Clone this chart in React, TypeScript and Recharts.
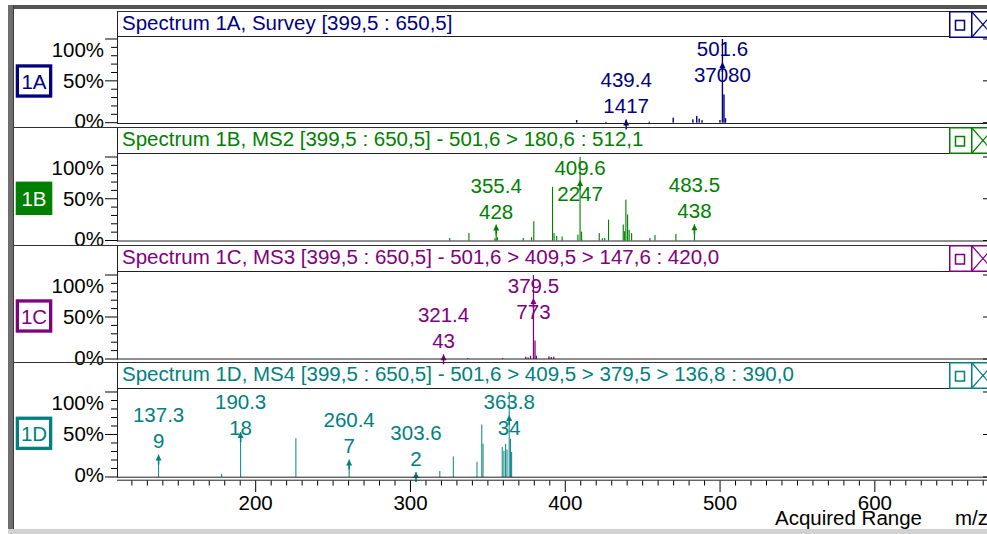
import React from "react";
import { BarChart, Bar, XAxis, YAxis } from "recharts";

type Peak = { mz: number; intensity: number; tagged?: boolean };

// ---- spectra (m/z, absolute intensity); tagged peaks carry an annotation ----
const SURVEY_1A: Peak[] = [
  { mz: 407.4, intensity: 1200 },
  { mz: 426.3, intensity: 400 },
  { mz: 439.4, intensity: 1417, tagged: true },
  { mz: 454.3, intensity: 450 },
  { mz: 469.8, intensity: 2200 },
  { mz: 482.5, intensity: 1500 },
  { mz: 485.0, intensity: 3000 },
  { mz: 486.6, intensity: 1800 },
  { mz: 488.4, intensity: 1100 },
  { mz: 500.0, intensity: 1200 },
  { mz: 501.6, intensity: 37080, tagged: true },
  { mz: 502.6, intensity: 12500 },
  { mz: 503.6, intensity: 2000 },
];

const MS2_1B: Peak[] = [
  { mz: 325.4, intensity: 70 },
  { mz: 337.8, intensity: 200 },
  { mz: 354.6, intensity: 60 },
  { mz: 355.4, intensity: 428, tagged: true },
  { mz: 356.2, intensity: 90 },
  { mz: 372.9, intensity: 70 },
  { mz: 378.3, intensity: 90 },
  { mz: 379.7, intensity: 520 },
  { mz: 391.8, intensity: 1440 },
  { mz: 392.8, intensity: 200 },
  { mz: 394.5, intensity: 120 },
  { mz: 398.0, intensity: 110 },
  { mz: 408.2, intensity: 160 },
  { mz: 409.6, intensity: 2247, tagged: true },
  { mz: 410.6, intensity: 240 },
  { mz: 422.0, intensity: 200 },
  { mz: 424.0, intensity: 60 },
  { mz: 425.5, intensity: 70 },
  { mz: 428.0, intensity: 560 },
  { mz: 437.5, intensity: 430 },
  { mz: 438.4, intensity: 250 },
  { mz: 439.2, intensity: 1100 },
  { mz: 440.3, intensity: 700 },
  { mz: 441.3, intensity: 290 },
  { mz: 442.9, intensity: 200 },
  { mz: 454.7, intensity: 70 },
  { mz: 458.0, intensity: 150 },
  { mz: 471.5, intensity: 180 },
  { mz: 483.5, intensity: 438, tagged: true },
];

const MS3_1C: Peak[] = [
  { mz: 321.4, intensity: 43, tagged: true },
  { mz: 337.0, intensity: 8 },
  { mz: 359.6, intensity: 8 },
  { mz: 374.5, intensity: 22 },
  { mz: 376.0, intensity: 15 },
  { mz: 377.6, intensity: 30 },
  { mz: 379.5, intensity: 773, tagged: true },
  { mz: 380.5, intensity: 170 },
  { mz: 381.4, intensity: 30 },
  { mz: 389.5, intensity: 25 },
  { mz: 391.0, intensity: 18 },
  { mz: 392.6, intensity: 22 },
];

const MS4_1D: Peak[] = [
  { mz: 137.3, intensity: 9, tagged: true },
  { mz: 178.0, intensity: 1.2 },
  { mz: 190.3, intensity: 18, tagged: true },
  { mz: 226.0, intensity: 15.5 },
  { mz: 260.4, intensity: 7, tagged: true },
  { mz: 303.6, intensity: 2, tagged: true },
  { mz: 319.0, intensity: 2.4 },
  { mz: 327.7, intensity: 8.2 },
  { mz: 343.0, intensity: 6.1 },
  { mz: 346.1, intensity: 21 },
  { mz: 346.9, intensity: 13.3 },
  { mz: 359.3, intensity: 12 },
  { mz: 360.4, intensity: 10.5 },
  { mz: 361.5, intensity: 13.3 },
  { mz: 362.4, intensity: 11 },
  { mz: 363.8, intensity: 34, tagged: true },
  { mz: 364.7, intensity: 15.3 },
  { mz: 365.4, intensity: 10 },
];

const PANEL_IDS = ["1A", "1B", "1C", "1D"];
const PANEL_TITLES = [
  "Spectrum 1A, Survey [399,5 : 650,5]",
  "Spectrum 1B, MS2 [399,5 : 650,5] - 501,6 > 180,6 : 512,1",
  "Spectrum 1C, MS3 [399,5 : 650,5] - 501,6 > 409,5 > 147,6 : 420,0",
  "Spectrum 1D, MS4 [399,5 : 650,5] - 501,6 > 409,5 > 379,5 > 136,8 : 390,0",
];
const PANEL_COLORS = ["#000080", "#008000", "#800080", "#008080"];
const PANEL_FILLED = [false, true, false, false];
const PANEL_DATA = [SURVEY_1A, MS2_1B, MS3_1C, MS4_1D];

// ---- axes ----
const MZ_DOMAIN: [number, number] = [110.4, 673.1];
const MZ_MAJOR_TICKS = [200, 300, 400, 500, 600];
const MZ_TICK_STEP = 10;
const MZ_TICKS: number[] = [];
for (let v = 120; v <= 670; v += MZ_TICK_STEP) MZ_TICKS.push(v);

const Y_TICK_PCTS = [0, 10, 20, 30, 40, 50, 60, 70, 80, 90, 100];
const Y_TICK_LABELS: Record<number, string> = { 0: "0%", 50: "50%", 100: "100%" };
const Y_LABEL_BASELINE: Record<number, number> = { 0: 5.5, 50: 7, 100: 18 };

const AXIS_TITLE = "Acquired Range";
const AXIS_UNIT = "m/z";

// ---- layout ----
const FRAME_W = 987;
const FRAME_H = 534;
const CHART_W = 988;
const YAXIS_W = 117;
const M_TOP = 4;
const M_BOTTOM = 10;
const TITLE_TOP = [11, 127, 245, 362];
const TITLE_BOTTOM = [36, 153, 271, 388];
const Y100 = [39.3, 157, 274.5, 391.7];
const Y0 = [123, 240.5, 358.5, 476.7];
const BOX_CENTER = [81, 198.3, 316, 433.3];
const FONT = '"Liberation Sans", Arial, Helvetica, sans-serif';
const FS = 20.5;

const makeYTick = (base: number) => (props: any) => {
  const { x, y, payload } = props;
  const pct = Math.round((payload.value / base) * 100);
  const major = pct % 50 === 0;
  return (
    <g>
      <line x1={x - (major ? 12 : 6)} x2={x} y1={y} y2={y} stroke="#000" strokeWidth={1} />
      {major && (
        <line x1={CHART_W - 5} x2={CHART_W} y1={y} y2={y} stroke="#000" strokeWidth={1} />
      )}
      {major && (
        <text
          x={x - 13}
          y={y + Y_LABEL_BASELINE[pct]}
          textAnchor="end"
          fontFamily={FONT}
          fontSize={FS}
          fill="#000"
        >
          {Y_TICK_LABELS[pct]}
        </text>
      )}
    </g>
  );
};

const renderXTick = (props: any) => {
  const { x, y, payload } = props;
  const v = payload.value;
  const major = MZ_MAJOR_TICKS.includes(v);
  return (
    <g>
      <line x1={x} x2={x} y1={y + 3.5} y2={y + (major ? 15 : 8.5)} stroke="#000" strokeWidth={1} />
      {major && (
        <text x={x} y={y + 33} textAnchor="middle" fontFamily={FONT} fontSize={FS} fill="#000">
          {v}
        </text>
      )}
    </g>
  );
};

const makePeakShape = (color: string) => (props: any) => {
  const { x, y, width, height, payload } = props;
  const cx = x + width / 2;
  const line1 = Math.max(y - 32, M_TOP + 17.5);
  const line2 = line1 + 26;
  const ay = Math.max(y, M_TOP + 23);
  return (
    <g>
      <rect x={x} y={y} width={width} height={Math.max(height, 0)} fill={color} />
      {payload && payload.tagged && (
        <g>
          <polygon points={`${cx},${ay} ${cx - 3},${ay + 6} ${cx + 3},${ay + 6}`} fill={color} />
          <line x1={cx} x2={cx} y1={ay + 4} y2={ay + 10} stroke={color} strokeWidth={1.5} />
          <text x={cx} y={line1} textAnchor="middle" fontFamily={FONT} fontSize={FS} fill={color}>
            {payload.mz.toFixed(1)}
          </text>
          <text x={cx} y={line2} textAnchor="middle" fontFamily={FONT} fontSize={FS} fill={color}>
            {String(payload.intensity)}
          </text>
        </g>
      )}
    </g>
  );
};

function SpectrumPanel({ index }: { index: number }) {
  const peaks = PANEL_DATA[index];
  const color = PANEL_COLORS[index];
  const base = Math.max(...peaks.map((d) => d.intensity));
  const isLast = index === PANEL_DATA.length - 1;
  const plotH = Y0[index] - Y100[index];
  const bottom = isLast ? FRAME_H - Y0[index] : M_BOTTOM;
  const height = M_TOP + plotH + bottom;
  return (
    <div style={{ position: "absolute", left: 0, top: Y100[index] - M_TOP }}>
      <BarChart
        width={CHART_W}
        height={height}
        data={peaks}
        margin={{ top: M_TOP, right: 0, bottom: isLast ? 0 : bottom, left: 0 }}
      >
        <XAxis
          dataKey="mz"
          type="number"
          domain={MZ_DOMAIN}
          ticks={MZ_TICKS}
          interval={0}
          hide={!isLast}
          height={isLast ? bottom : 0}
          axisLine={false}
          tickLine={false}
          tickSize={0}
          tickMargin={0}
          tick={renderXTick}
        />
        <YAxis
          type="number"
          domain={[0, base]}
          ticks={Y_TICK_PCTS.map((p) => (base * p) / 100)}
          interval={0}
          width={YAXIS_W}
          axisLine={false}
          tickLine={false}
          tickSize={0}
          tickMargin={0}
          tick={makeYTick(base)}
        />
        <Bar
          dataKey="intensity"
          barSize={2}
          fill={color}
          isAnimationActive={false}
          shape={makePeakShape(color)}
        />
      </BarChart>
    </div>
  );
}

function PanelFrame({ index }: { index: number }) {
  const color = PANEL_COLORS[index];
  const t = TITLE_TOP[index];
  const tb = TITLE_BOTTOM[index];
  const z = Y0[index];
  const cy = BOX_CENTER[index];
  const filled = PANEL_FILLED[index];
  return (
    <g>
      <line x1={index === 0 ? 117 : 14} x2={FRAME_W} y1={t + 0.5} y2={t + 0.5} stroke="#303030" />
      <line x1={117} x2={FRAME_W} y1={tb + 0.5} y2={tb + 0.5} stroke="#202020" />
      <line x1={117.5} x2={117.5} y1={t} y2={z + 1} stroke="#202020" />
      <line x1={117} x2={FRAME_W} y1={z + 0.5} y2={z + 0.5} stroke="#202020" />
      <text x={122} y={t + 19} fontFamily={FONT} fontSize={FS} fill={color}>
        {PANEL_TITLES[index]}
      </text>
      {/* title bar buttons */}
      <rect x={949.75} y={t + 0.75} width={22} height={25.5} fill="#fff" stroke={color} strokeWidth={1.5} />
      <rect x={955.5} y={t + 9.5} width={9} height={9.5} fill="none" stroke={color} strokeWidth={1.5} />
      <rect x={971.75} y={t + 0.75} width={22} height={25.5} fill="#fff" stroke={color} strokeWidth={1.5} />
      <line x1={972} x2={994} y1={t + 1} y2={t + 26} stroke={color} strokeWidth={1.2} />
      <line x1={972} x2={994} y1={t + 26} y2={t + 1} stroke={color} strokeWidth={1.2} />
      {/* panel tag */}
      {filled ? (
        <rect x={15.7} y={cy - 16.7} width={36.6} height={33.4} fill={color} />
      ) : (
        <rect x={17.35} y={cy - 15.05} width={33.3} height={30.1} fill="#fff" stroke={color} strokeWidth={3.3} />
      )}
      <text
        x={34}
        y={cy + 7.5}
        textAnchor="middle"
        fontFamily={FONT}
        fontSize={FS}
        fill={filled ? "#fff" : color}
      >
        {PANEL_IDS[index]}
      </text>
    </g>
  );
}

export default function App() {
  const last = PANEL_DATA.length - 1;
  return (
    <div
      style={{
        position: "fixed",
        left: 0,
        top: 0,
        width: FRAME_W,
        height: FRAME_H,
        overflow: "hidden",
        background: "#fff",
      }}
    >
      {PANEL_DATA.map((_, i) => (
        <SpectrumPanel key={i} index={i} />
      ))}
      <svg
        width={FRAME_W}
        height={FRAME_H}
        style={{ position: "absolute", left: 0, top: 0, pointerEvents: "none" }}
      >
        {/* window border */}
        <rect x={8} y={5} width={FRAME_W - 8} height={4} fill="#545454" />
        <rect x={8} y={5} width={5} height={524} fill="#6e6e6e" />
        <rect x={13} y={5} width={1} height={524} fill="#3a3a3a" />
        <rect x={8} y={529} width={FRAME_W - 8} height={5} fill="#d2d2d2" />
        {PANEL_DATA.map((_, i) => (
          <PanelFrame key={i} index={i} />
        ))}
        {/* m/z axis base line */}
        <line x1={117} x2={FRAME_W} y1={Y0[last] + 3.5} y2={Y0[last] + 3.5} stroke="#202020" />
        <text x={775} y={525} fontFamily={FONT} fontSize={FS} fill="#000">
          {AXIS_TITLE}
        </text>
        <text x={955} y={525} fontFamily={FONT} fontSize={FS} fill="#000">
          {AXIS_UNIT}
        </text>
      </svg>
    </div>
  );
}
